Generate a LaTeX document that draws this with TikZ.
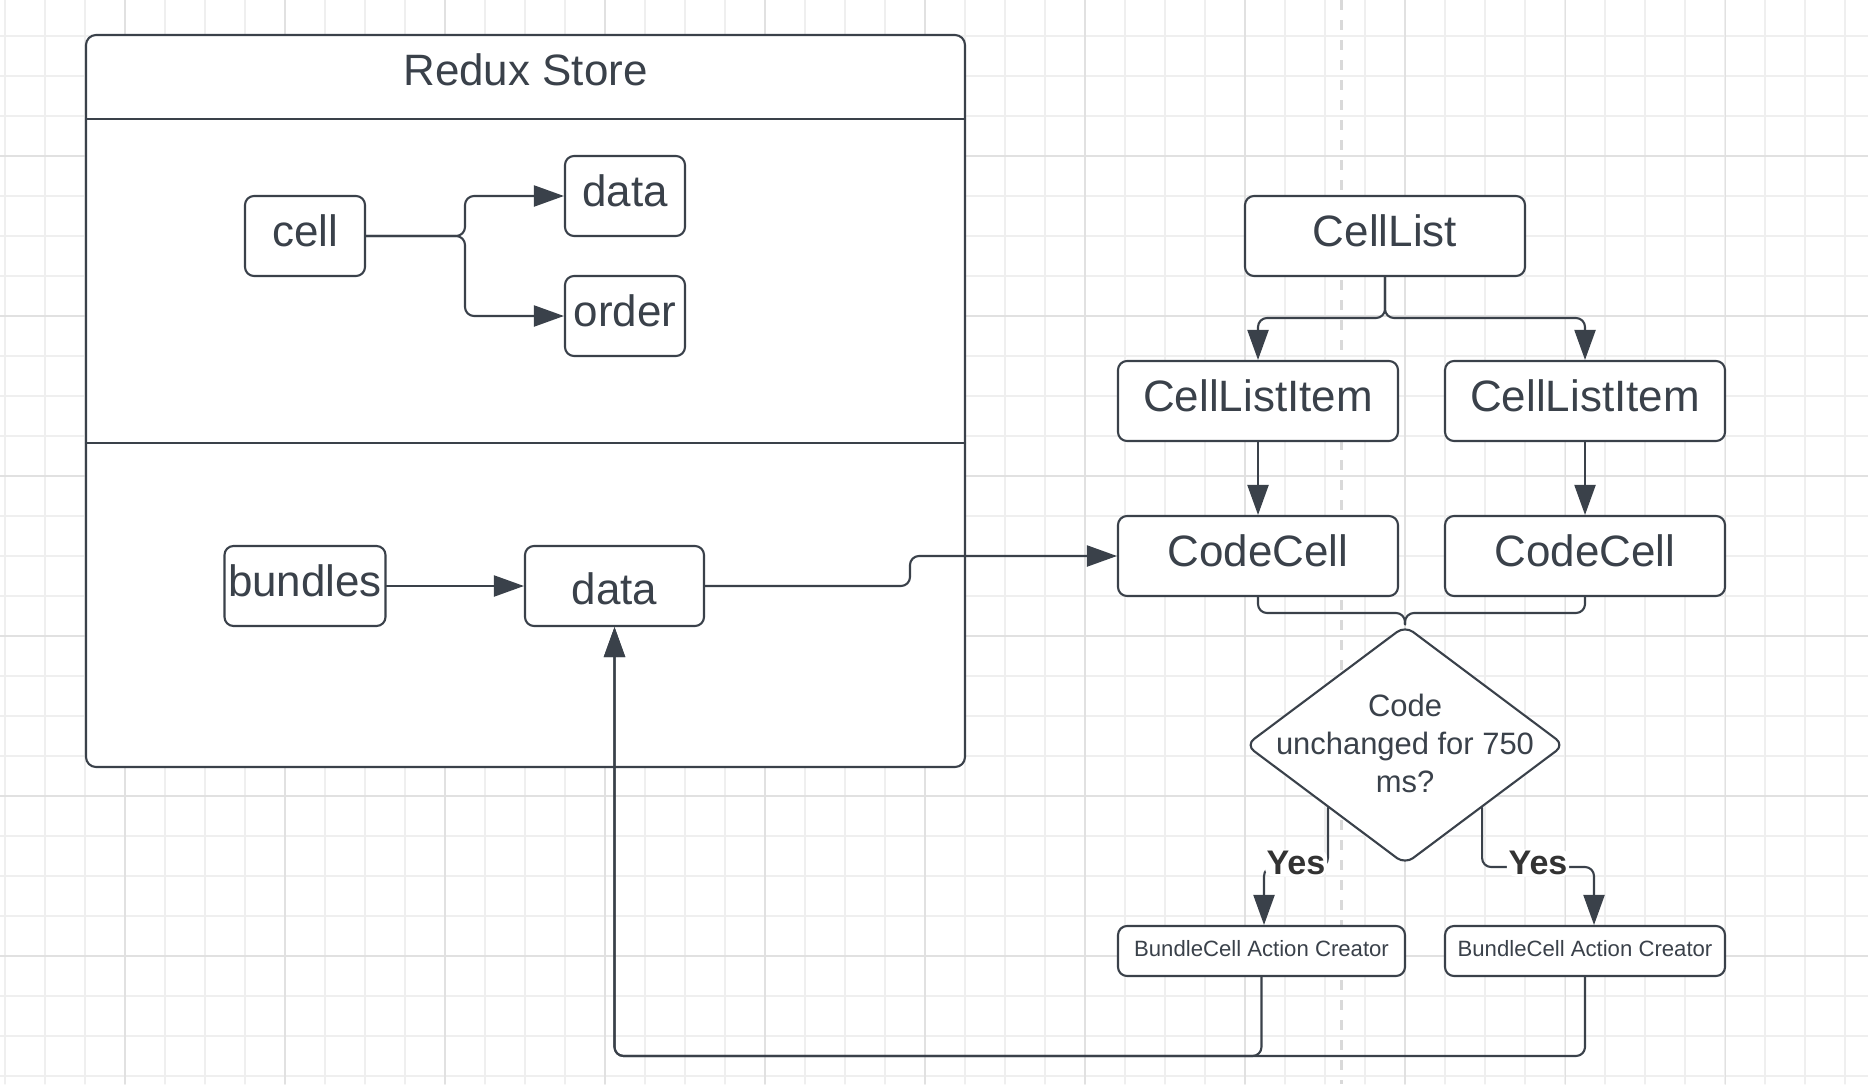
\documentclass[tikz,border=0pt]{standalone}
\usepackage{fontspec}
\setmainfont{Liberation Sans}
\usepackage{tikz}
\usetikzlibrary{arrows.meta,positioning,shapes.geometric,calc}
\definecolor{RSInk}{HTML}{3A414A}
\definecolor{RSText}{HTML}{333333}
\definecolor{RSGrid}{HTML}{EFEFEF}
\definecolor{RSGridMajor}{HTML}{E1E1E1}
\definecolor{RSPage}{HTML}{D9D9D9}

\begin{document}
\begin{tikzpicture}[x=1cm,y=1cm,line cap=round,line join=round,
  rsbox/.style={draw=RSInk,fill=white,line width=0.6pt,rounded corners=0.09cm,
    inner sep=0pt,minimum height=0.8cm,text=RSInk,
    font=\fontsize{12.5}{15}\selectfont,text height=0.32cm,text depth=0.11cm},
  rsaction/.style={rsbox,minimum height=0.5cm,
    font=\fontsize{6.3}{7.5}\selectfont,text height=0.16cm,text depth=0.05cm},
  rsflow/.style={RSInk,line width=0.6pt,rounded corners=0.09cm},
  rsarrow/.style={rsflow,-{Triangle[length=0.3cm,width=0.21cm]}},
  rsyes/.style={fill=white,inner sep=0.5pt,text=RSText,yshift=0.04cm,
    font=\fontsize{9.7}{11}\selectfont\bfseries}]
  \path[use as bounding box] (0,0) rectangle (18.68,10.84);
  \fill[white] (0,0) rectangle (18.68,10.84);

  % Canvas grid, every fourth line a little darker.
  \foreach \i in {0,...,46}
    \draw[RSGrid,line width=0.3pt] ({0.05+0.4*\i},0) -- ++(0,10.84);
  \foreach \j in {0,...,26}
    \draw[RSGrid,line width=0.3pt] (0,{10.48-0.4*\j}) -- ++(18.68,0);
  \foreach \i in {0,...,10}
    \draw[RSGridMajor,line width=0.3pt] ({1.25+1.6*\i},0) -- ++(0,10.84);
  \foreach \j in {0,...,5}
    \draw[RSGridMajor,line width=0.3pt] (0,{9.28-1.6*\j}) -- ++(18.68,0);
  \draw[RSPage,line width=0.85pt,line cap=butt,dash pattern=on 0.1cm off 0.1cm]
    (13.41,10.84) -- (13.41,0);

  % Store container with its two slices.
  \draw[RSInk,fill=white,line width=0.6pt,rounded corners=0.1cm]
    (0.86,3.17) rectangle (9.65,10.49);
  \draw[RSInk,line width=0.6pt] (0.86,9.65) -- (9.65,9.65);
  \draw[RSInk,line width=0.6pt] (0.86,6.41) -- (9.65,6.41);
  \node[text=RSInk,font=\fontsize{12.5}{15}\selectfont] (storetitle)
    at (5.255,10.14) {Redux Store};

  \node[rsbox,minimum width=1.2cm] (cell) at (3.05,8.48) {cell};
  \node[rsbox,minimum width=1.2cm] (celldata) at (6.25,8.88) {data};
  \node[rsbox,minimum width=1.2cm] (cellorder) at (6.25,7.68) {order};
  \node[rsbox,minimum width=1.61cm] (bundles) at (3.05,4.98) {bundles};
  \node[rsbox,minimum width=1.79cm,text height=0.36cm,text depth=0pt]
    (bundledata) at (6.145,4.98) {data};

  % Component tree.
  \node[rsbox,minimum width=2.8cm] (celllist) at (13.85,8.48) {CellList};
  \node[rsbox,minimum width=2.8cm] (itemA) at (12.58,6.83) {CellListItem};
  \node[rsbox,minimum width=2.8cm] (itemB) at (15.85,6.83) {CellListItem};
  \node[rsbox,minimum width=2.8cm] (codeA) at (12.58,5.28) {CodeCell};
  \node[rsbox,minimum width=2.8cm] (codeB) at (15.85,5.28) {CodeCell};

  \node[diamond,draw=RSInk,fill=white,line width=0.6pt,rounded corners=0.1cm,
        minimum width=3.19cm,minimum height=2.39cm,inner sep=0pt]
    (check) at (14.05,3.39) {};
  \node[align=center,text=RSInk,font=\fontsize{8.8}{10.8}\selectfont]
    (checktext) at ($(check.center)+(0,0.02)$)
    {Code\\unchanged for 750\\ms?};

  \node[rsaction,minimum width=2.87cm] (bundleA) at (12.615,1.33)
    {BundleCell Action Creator};
  \node[rsaction,minimum width=2.8cm] (bundleB) at (15.85,1.33)
    {BundleCell Action Creator};

  % Connectors.
  \coordinate (cellsplit) at (4.65,8.48);
  \draw[rsarrow] (cell.east) -- (cellsplit) |- (celldata.west);
  \draw[rsarrow] (cell.east) -- (cellsplit) |- (cellorder.west);
  \draw[rsarrow] (bundles) -- (bundledata);

  \coordinate (storejog) at (9.10,5.28);
  \draw[rsarrow] (bundledata.east) -| (storejog) -- (codeA.west);

  \coordinate (listfork) at (13.85,7.66);
  \draw[rsarrow] (celllist.south) -- (listfork) -| (itemA.north);
  \draw[rsarrow] (celllist.south) -- (listfork) -| (itemB.north);
  \draw[rsarrow] (itemA) -- (codeA);
  \draw[rsarrow] (itemB) -- (codeB);

  \coordinate (codejoin) at (14.05,4.71);
  \draw[rsflow] (codeA.south) |- (codejoin) -- (check.north);
  \draw[rsflow] (codeB.south) |- (codejoin) -- (check.north);

  \coordinate (yesleft) at (12.64,2.17);
  \coordinate (yesright) at (15.94,2.17);
  \draw[rsarrow] ($(check.west)!0.52!(check.south)$) |-
    node[rsyes,pos=0.75] (yesA) {Yes}
    (yesleft) -- (bundleA.north -| yesleft);
  \draw[rsarrow] ($(check.east)!0.52!(check.south)$) |-
    node[rsyes,pos=0.75] (yesB) {Yes}
    (yesright) -- (bundleB.north -| yesright);

  \coordinate (bus) at (6.145,0.28);
  \draw[rsarrow] (bundleA.south) |- (bus) -- (bundledata.south);
  \draw[rsarrow] (bundleB.south) |- (bus) -- (bundledata.south);
\end{tikzpicture}
\end{document}
